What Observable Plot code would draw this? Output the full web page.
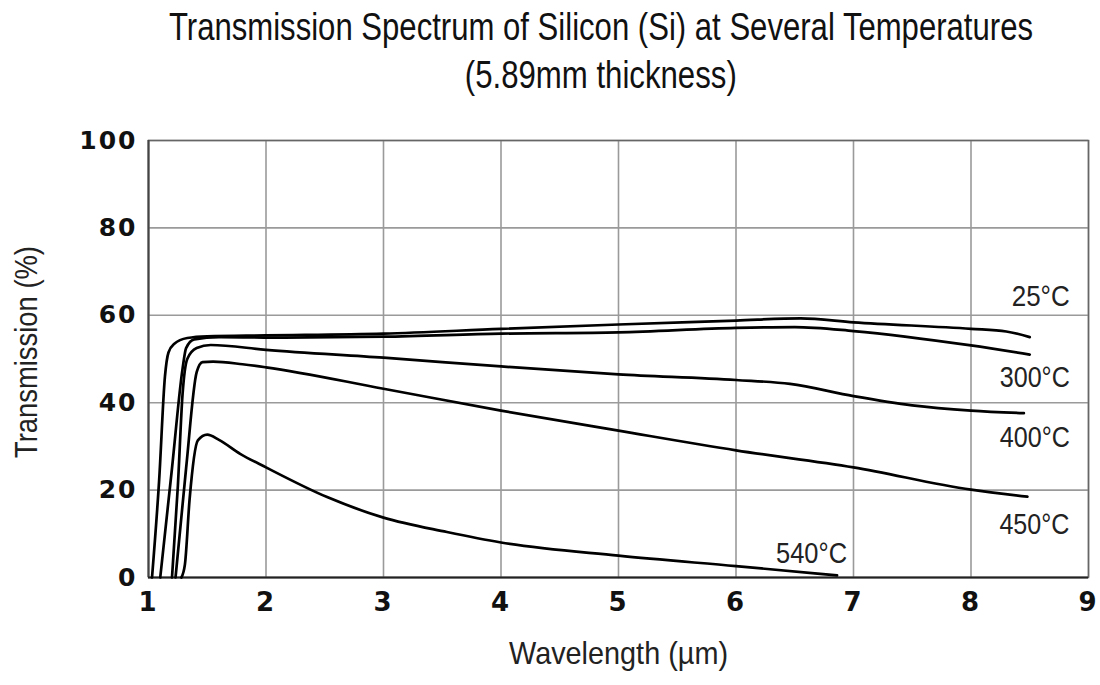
<!DOCTYPE html>
<html>
<head>
<meta charset="utf-8">
<script src="https://cdn.jsdelivr.net/npm/d3@7"></script>
<script src="https://cdn.jsdelivr.net/npm/@observablehq/plot@0.6"></script>
<style>
  body { margin: 0; background: #fff; width: 1100px; height: 685px; overflow: hidden;
         font-family: "Liberation Sans Narrow", "Liberation Sans", sans-serif; }
  #title { position: relative; height: 100px; }
  .tl { position: absolute; left: 0; width: 1202px; text-align: center; white-space: nowrap;
        color: #111; font-size: 38px; line-height: 1; }
  .tl span { display: inline-block; transform-origin: 50% 50%; }
  .si g[aria-label$="tick label"] text { letter-spacing: 2px; }
</style>
</head>
<body>
<div id="title">
  <div class="tl" style="top:8px"><span id="t1">Transmission Spectrum of Silicon (Si) at Several Temperatures</span></div>
  <div class="tl" style="top:56px"><span id="t2">(5.89mm thickness)</span></div>
</div>
<div id="chart"></div>
<script>
// Temperatures of the measured samples
const temps = ["25°C", "300°C", "400°C", "450°C", "540°C"];

// Wavelength (µm) and transmission (%) for each temperature
const wl25  = [1.03, 1.09, 1.14, 1.17, 1.22, 1.33, 1.5, 2, 3, 4, 5, 6, 6.55, 7, 8, 8.3, 8.5];
const tr25  = [0, 22, 46, 51.5, 53.5, 54.8, 55.2, 55.4, 55.8, 56.9, 57.9, 58.8, 59.3, 58.4, 56.9, 56.3, 55];

const wl300 = [1.10, 1.2, 1.29, 1.32, 1.39, 1.6, 2, 3, 4, 5, 6, 6.5, 7, 8, 8.5];
const tr300 = [0, 25, 47.8, 52.5, 54.5, 55, 54.9, 55.1, 55.8, 56.1, 57.1, 57.3, 56.4, 53.1, 51];

const wl400 = [1.2, 1.25, 1.29, 1.33, 1.41, 1.53, 2, 3, 4, 5, 6, 6.46, 7, 7.5, 8, 8.45];
const tr400 = [0, 21, 42, 50, 52.5, 53.2, 52.1, 50.3, 48.3, 46.5, 45.2, 44.3, 41.5, 39.4, 38.2, 37.6];

const wl450 = [1.23, 1.32, 1.41, 1.46, 1.55, 1.8, 2, 3, 4, 5, 6, 7, 8, 8.48];
const tr450 = [0, 25, 47, 49.3, 49.4, 48.8, 48.1, 43.2, 38.2, 33.6, 29.1, 25.2, 20.1, 18.5];

const wl540 = [1.28, 1.31, 1.35, 1.42, 1.5, 1.6, 1.78, 2, 2.52, 3, 3.54, 4, 5, 6, 6.86];
const tr540 = [0, 3, 18, 31.4, 32.7, 31.5, 28.3, 25.2, 18.4, 13.7, 10.4, 8, 5, 2.6, 0.5];

// Axis ticks
const xTicks = [1, 2, 3, 4, 5, 6, 7, 8, 9];
const yTicks = [0, 20, 40, 60, 80, 100];

const series = [[wl25, tr25], [wl300, tr300], [wl400, tr400], [wl450, tr450], [wl540, tr540]];
const rows = series.flatMap(([w, t], i) => w.map((wl, j) => ({temp: temps[i], wl, t: t[j]})));
const ends = series.map(([w, t], i) => ({temp: temps[i], wl: w[w.length - 1], t: t[t.length - 1]}));

// Label offsets (px) from each curve's last point
const labelOffset = {"25°C": [40, -40], "300°C": [40, 23], "400°C": [46, 25], "450°C": [42, 28], "540°C": [10, -22]};

const sans = "'Liberation Sans', sans-serif";
const tickFont = "'DejaVu Sans', sans-serif";

const chart = Plot.plot({
  className: "si",
  width: 1100,
  height: 585,
  marginTop: 40,
  marginBottom: 108,
  marginLeft: 148,
  marginRight: 12,
  style: {background: "#fff", color: "#111"},
  x: {domain: [1, 9]},
  y: {domain: [0, 100]},
  marks: [
    Plot.gridX(xTicks, {stroke: "#9a9a9a", strokeOpacity: 1, strokeWidth: 1.6}),
    Plot.gridY(yTicks, {stroke: "#9a9a9a", strokeOpacity: 1, strokeWidth: 1.6}),
    Plot.frame({stroke: "#666", strokeWidth: 1.5}),
    Plot.ruleX([1], {stroke: "#444", strokeWidth: 2}),
    Plot.ruleY([0], {stroke: "#222", strokeWidth: 2.2}),
    Plot.line(rows, {x: "wl", y: "t", z: "temp", stroke: "#000", strokeWidth: 2.7, curve: "monotone-x"}),
    ...ends.map(e => Plot.text([e], {
      x: "wl", y: "t", text: "temp", textAnchor: "end",
      dx: labelOffset[e.temp][0], dy: labelOffset[e.temp][1],
      fontFamily: sans, fontSize: 29, fill: "#222"
    })),
    Plot.axisX(xTicks, {tickSize: 0, tickPadding: 15, tickFormat: d => String(d), fontSize: 26, fontWeight: "bold", fontFamily: tickFont, label: null}),
    Plot.axisY(yTicks, {tickSize: 0, tickPadding: 11, tickFormat: d => String(d), fontSize: 25, fontWeight: "bold", fontFamily: tickFont, label: null}),
    Plot.text(["Wavelength (µm)"], {frameAnchor: "bottom", dy: 86, fontFamily: sans, fontSize: 32, fill: "#222"}),
    Plot.text(["Transmission (%)"], {frameAnchor: "left", textAnchor: "middle", dx: -121, dy: -7, rotate: -90, fontFamily: sans, fontSize: 31, fill: "#222"})
  ]
});
document.getElementById("chart").appendChild(chart);

// Condense the label texts to their set widths
const condensed = {"Wavelength (µm)": 219, "Transmission (%)": 212,
  "25°C": 58, "300°C": 70, "400°C": 70, "450°C": 70, "540°C": 71};
chart.querySelectorAll("text").forEach(t => {
  const w = condensed[t.textContent];
  if (w) {
    t.setAttribute("textLength", w);
    t.setAttribute("lengthAdjust", "spacingAndGlyphs");
  }
});

// Fit the condensed title lines to their set widths
function fit(id, target) {
  const el = document.getElementById(id);
  const w = el.getBoundingClientRect().width;
  el.style.transform = `scaleX(${target / w})`;
}
fit("t1", 864);
fit("t2", 272);
</script>
</body>
</html>
